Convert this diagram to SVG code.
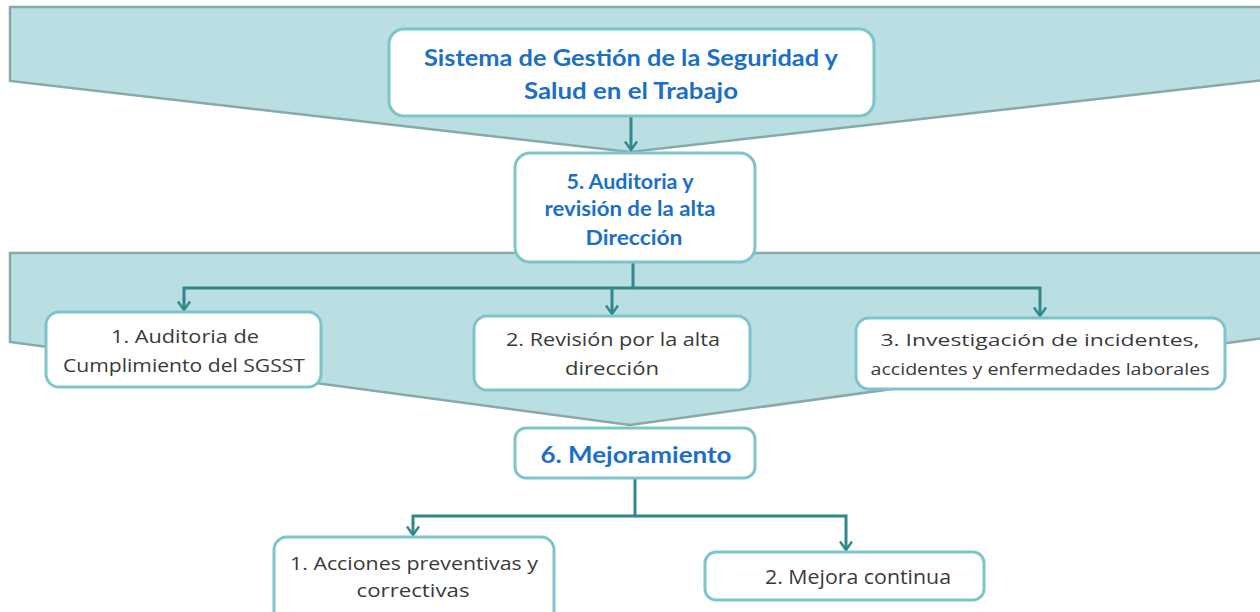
<svg xmlns="http://www.w3.org/2000/svg" width="1260" height="612" viewBox="0 0 1260 612">
<defs>
<style>
.band{fill:#badfe2;stroke:#89a8a8;stroke-width:2.5}
.node{fill:#ffffff;stroke:#7dc5ca;stroke-width:3}
.conn{fill:none;stroke:#32878b;stroke-width:3}
.blue{font-family:Lato,"Liberation Sans",sans-serif;font-weight:bold;fill:#1b6fc6;text-anchor:middle}
.gray{font-family:"Open Sans","Liberation Sans",sans-serif;fill:#3a3a3a;text-anchor:middle}
</style>
<marker id="arr" viewBox="0 0 12 14" refX="10" refY="7" markerWidth="12" markerHeight="14" markerUnits="userSpaceOnUse" orient="auto">
<path d="M1.5,1 L10,7 L1.5,13" fill="none" stroke="#32878b" stroke-width="2.4"/>
</marker>
</defs>
<rect width="1260" height="612" fill="#ffffff"/>
<g id="bands">
<polygon class="band" points="10,7 1264,7 1264,80 630,152 10,81"/>
<polygon class="band" points="10,253 1264,253 1264,338 630,425 10,342"/>
</g>
<g id="connectors">
<path class="conn" d="M631,116 V150" marker-end="url(#arr)"/>
<path class="conn" d="M633,262 V288 H184 V310" marker-end="url(#arr)"/>
<path class="conn" d="M612,288 V314" marker-end="url(#arr)"/>
<path class="conn" d="M633,288 H1040 V316" marker-end="url(#arr)"/>
<path class="conn" d="M635,478 V516 H413 V535" marker-end="url(#arr)"/>
<path class="conn" d="M635,516 H846 V550" marker-end="url(#arr)"/>
</g>
<g id="n-sgsst">
<rect class="node" x="389" y="29" width="485" height="87" rx="15"/>
<text class="blue" x="631" y="66" font-size="22" textLength="414" lengthAdjust="spacingAndGlyphs">Sistema de Gestión de la Seguridad y</text>
<text class="blue" x="631" y="99" font-size="22" textLength="214" lengthAdjust="spacingAndGlyphs">Salud en el Trabajo</text>
</g>
<g id="n-auditoria">
<rect class="node" x="515" y="153" width="240" height="109" rx="15"/>
<text class="blue" x="630" y="189" font-size="20" textLength="127" lengthAdjust="spacingAndGlyphs">5. Auditoria y</text>
<text class="blue" x="630" y="216" font-size="20" textLength="171" lengthAdjust="spacingAndGlyphs">revisión de la alta</text>
<text class="blue" x="634" y="245" font-size="20" textLength="97" lengthAdjust="spacingAndGlyphs">Dirección</text>
</g>
<g id="n-cumplimiento">
<rect class="node" x="46" y="312" width="275" height="75" rx="13"/>
<text class="gray" x="185" y="343" font-size="18" textLength="148" lengthAdjust="spacingAndGlyphs">1. Auditoria de</text>
<text class="gray" x="184" y="372" font-size="18" textLength="242" lengthAdjust="spacingAndGlyphs">Cumplimiento del SGSST</text>
</g>
<g id="n-revision">
<rect class="node" x="474" y="316" width="276" height="74" rx="13"/>
<text class="gray" x="613" y="346" font-size="18" textLength="214" lengthAdjust="spacingAndGlyphs">2. Revisión por la alta</text>
<text class="gray" x="612" y="375" font-size="18" textLength="94" lengthAdjust="spacingAndGlyphs">dirección</text>
</g>
<g id="n-investigacion">
<rect class="node" x="856" y="318" width="369" height="71" rx="13"/>
<text class="gray" x="1040" y="346" font-size="16.5" textLength="319" lengthAdjust="spacingAndGlyphs">3. Investigación  de incidentes,</text>
<text class="gray" x="1040" y="375" font-size="16.5" textLength="339" lengthAdjust="spacingAndGlyphs">accidentes y enfermedades  laborales</text>
</g>
<g id="n-mejoramiento">
<rect class="node" x="515" y="428" width="240" height="50" rx="11"/>
<text class="blue" x="636" y="463" font-size="22" textLength="191" lengthAdjust="spacingAndGlyphs">6. Mejoramiento</text>
</g>
<g id="n-acciones">
<rect class="node" x="274" y="537" width="280" height="90" rx="13"/>
<text class="gray" x="414" y="570" font-size="18" textLength="248" lengthAdjust="spacingAndGlyphs">1. Acciones preventivas y</text>
<text class="gray" x="413" y="597" font-size="18" textLength="113" lengthAdjust="spacingAndGlyphs">correctivas</text>
</g>
<g id="n-mejora">
<rect class="node" x="705" y="552" width="279" height="48" rx="11"/>
<text class="gray" x="858" y="584" font-size="20" textLength="186" lengthAdjust="spacingAndGlyphs">2. Mejora continua</text>
</g>
</svg>
